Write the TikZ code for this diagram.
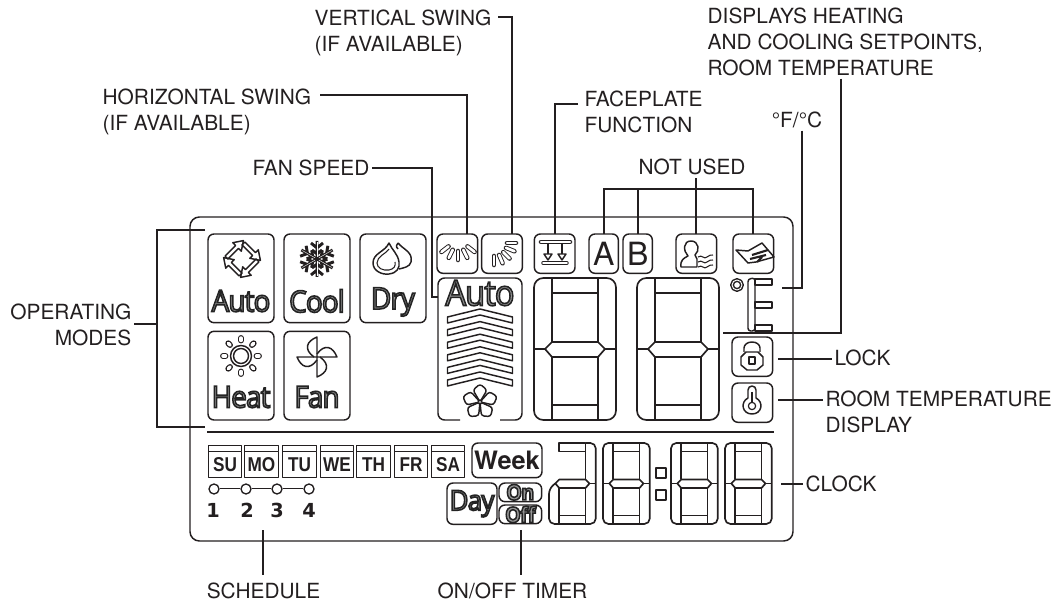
\documentclass[tikz,border=0pt]{standalone}
\usepackage{fontspec}
\setmainfont{TeX Gyre Heros}
\newfontfamily\lcdfont[FakeStretch=.93,LetterSpace=-3]{Open Sans}
\newfontfamily\dayfont[FakeStretch=.86]{Liberation Sans}
\newfontfamily\numfont{DejaVu Sans}
\usepackage{xcolor}
\usetikzlibrary{positioning,calc}
\definecolor{ink}{RGB}{35,31,32}
\newcommand{\hollow}[1]{\special{pdf:code 2 Tr 1.15 w .6 g .14 G}#1\special{pdf:code 0 Tr .14 g}}
% one seven-segment digit: left, top, scale
\newcommand{\segbody}{
  \draw (11,71) -- (18,64) -- (64,64) -- (71,71) -- (64,79) -- (18,79) -- cycle;
  \draw (0,71) -- (11,71) (71,71) -- (82,71);
  \draw (18,0) -- (18,64) (64,0) -- (64,64) (18,79) -- (18,142) (64,79) -- (64,142);
  \draw (18,15) -- (64,15) (18,127) -- (64,127);
}
\newcommand{\segdigit}[3]{
  \begin{scope}[shift={(#1,#2)},scale=#3,lcd,line width=1.25pt]
    \draw[rounded corners={#3*7pt}] (0,0) rectangle (82,142);
    \segbody
  \end{scope}
}
\tikzset{
  lcd/.style={draw=ink,line width=1.1pt,line join=round},
  leader/.style={draw=ink,line width=1.5pt},
  lbl/.style={text=ink,inner sep=0pt,outer sep=2pt,align=left,font=\fontsize{15.65}{19.5}\selectfont},
  icobox/.style={lcd,rounded corners=4.5pt,inner sep=0pt,outer sep=0pt,minimum width=30.5pt,minimum height=29.5pt},
  modebox/.style={icobox,minimum width=49.5pt,minimum height=66.5pt},
  modetxt/.style={text=ink,inner sep=0pt,font=\lcdfont\fontsize{22.5}{22.5}\selectfont},
  daybox/.style={lcd,line width=.9pt,inner sep=0pt,outer sep=0pt,minimum width=25pt,minimum height=20pt,text=ink,font=\dayfont\bfseries\fontsize{15}{15}\selectfont},
  capsule/.style={draw=ink,line width=.7pt,double=white,double distance=2pt,line cap=round},
  stop/.style={circle,draw=ink,line width=1pt,fill=white,inner sep=0pt,minimum size=7.5pt},
  stoplink/.style={draw=ink,line width=.55pt,double=white,double distance=.5pt},
  stopnum/.style={text=ink,inner sep=0pt,font=\numfont\bfseries\fontsize{14.5}{14.5}\selectfont},
}
\begin{document}
\begin{tikzpicture}[x=.75pt,y=-.75pt]
  \useasboundingbox (0,0) rectangle (1059,605);
  \draw[lcd,rounded corners=7pt] (190,217) rectangle (793,541);
  \draw[lcd] (207,432) -- (774,432);

  % mode boxes
  \node[modebox,anchor=north west] (mAuto) at (208,234) {};
  \node[modebox,right=7.5pt of mAuto] (mCool) {};
  \node[modebox,right=7.5pt of mCool] (mDry) {};
  \node[modebox,below=6.5pt of mAuto] (mHeat) {};
  \node[modebox,right=7.5pt of mHeat] (mFan) {};
  \node[modetxt] (tAuto) at (241,301) {\hollow{Auto}};
  \node[modetxt] (tCool) at (317,301) {\hollow{Cool}};
  \node[modetxt] (tDry) at (393,302) {\hollow{Dry}};
  \node[modetxt] (tHeat) at (241,397) {\hollow{Heat}};
  \node[modetxt] (tFan) at (317,397) {\hollow{Fan}};

  % recycle arrows
  \foreach \a in {45,135,225,315}
    \draw[lcd,shift={(242,259)},rotate=\a] (-10,-14) -- (5,-14) -- (5,-18) -- (14,-12) -- (5,-6) -- (5,-10) -- (-10,-10) -- cycle;
  % snowflake
  \foreach \a in {0,60,...,300} {
    \begin{scope}[shift={(317,259)},rotate=\a]
      \draw[draw=ink,line width=2.2pt] (0,0) -- (0,-18) (0,-11) -- (-6,-16) (0,-11) -- (6,-16) (0,-5) -- (-5,-9) (0,-5) -- (5,-9);
      \draw[white,line width=.3pt] (0,-2) -- (0,-17);
    \end{scope}
  }
  % drops
  \draw[lcd] (398,243) .. controls (404,250) and (413,252) .. (411,262) .. controls (410,267) and (403,268) .. (399,269);
  \draw[lcd] (398,249) .. controls (395,246) and (397,245) .. (398,243);
  \draw[lcd,fill=white] (389,243) .. controls (385,252) and (373,253) .. (373,263) .. controls (373,271) and (382,275) .. (389,274) .. controls (397,273) and (400,268) .. (399,262) .. controls (398,254) and (392,250) .. (389,243) -- cycle;
  \draw[lcd,line width=.8pt] (389,249) .. controls (386,254) and (377,256) .. (377,263) .. controls (377,268) and (383,271) .. (389,270) .. controls (394,269) and (396,266) .. (395,262);
  % sun
  \draw[lcd] (241,356) circle (7.5) circle (10.5);
  \foreach \a in {0,45,...,315}
    \draw[capsule,line width=.9pt,double distance=2.6pt] ($(241,356)+(\a:15.5)$) -- ($(241,356)+(\a:18)$);
  % pinwheel
  \foreach \a in {0,90,180,270}
    \draw[lcd,shift={(317,357)},rotate=\a] (0,0) -- (0,-20) .. controls (-10,-16) and (-14,-8) .. (-3,0);

  % top row icons
  \node[icobox,anchor=north west] (hswing) at (437,234) {};
  \node[icobox,right=3pt of hswing] (vswing) {};
  \node[icobox,right=9pt of vswing] (face) {};
  \node[icobox,minimum width=22pt,anchor=north west,text=ink,font=\fontsize{24}{24}\selectfont] (boxA) at (589,234) {A};
  \node[icobox,minimum width=22pt,right=3.5pt of boxA,text=ink,font=\fontsize{24}{24}\selectfont] (boxB) {B};
  \node[icobox,anchor=north west] (person) at (676,234) {};
  \node[icobox,anchor=north west] (air) at (733,234) {};
  \foreach \a in {38,64,90,116,142}
    \draw[capsule] ($(458,239)+(\a:12)$) -- ($(458,239)+(\a:21)$);
  \foreach \a in {0,22,45,67,90}
    \draw[capsule] ($(494,243)+(\a:13)$) -- ($(494,243)+(\a:22)$);
  % faceplate
  \draw[capsule] (541,242) -- (570,242);
  \draw[capsule,double distance=1.2pt] (543,263) -- (567,263);
  \foreach \x in {548,562} {
    \draw[lcd] (\x,243) -- (\x,254);
    \draw[lcd] (\x-4,254) -- (\x+4,254) -- (\x,260) -- cycle;
  }
  % person
  \draw[lcd] (681,267) .. controls (680,260) and (684,258) .. (688,256) .. controls (683,251) and (683,241) .. (691,241) .. controls (699,241) and (700,251) .. (695,255) -- (697,259) -- (697,267) -- cycle;
  \foreach \y in {257,262,267}
    \draw[lcd,line width=.8pt] (698,\y) .. controls (702,\y-3) and (704,\y+3) .. (707,\y) .. controls (709,\y-2) and (711,\y-2) .. (713,\y-2);
  % louvre
  \draw[lcd] (736,250) -- (748,251) -- (762,243) -- (774,257) -- (756,262) -- (748,263) -- cycle;
  \draw[draw=ink,line width=1.6pt] (752,255) -- (768,250) (750,259) -- (766,255) (757,262) -- (762,257);

  % fan speed panel
  \node[inner sep=0pt,outer sep=0pt,minimum width=63pt,minimum height=106.5pt,anchor=north west] (fanbox) at (438,278) {};
  \draw[lcd,rounded corners=5pt] (460,420) -- (fanbox.south west) -- (fanbox.north west) -- (fanbox.north east) -- (fanbox.south east) -- (500,420);
  \node[modetxt,font=\lcdfont\fontsize{26.5}{26.5}\selectfont] (tSpeed) at (480,293) {\hollow{Auto}};
  \foreach \y in {0,...,5}
    \draw[lcd,shift={(480,309+12.6*\y)}] (-32.5,8) -- (0,0) -- (32.5,8) -- (32.5,14) -- (0,6) -- (-32.5,14) -- cycle;
  \foreach \a in {0,72,...,288}
    \draw[lcd,shift={(480,402)},rotate=\a,rounded corners=2pt] (0,0) -- (-7,-12) -- (0,-18) -- (7,-12) -- cycle;

  % digits
  \segdigit{534}{278}{1}
  \segdigit{637}{278}{1}
  \segdigit{603}{443}{.57}
  \segdigit{671}{443}{.57}
  \segdigit{725}{443}{.57}
  \begin{scope}[shift={(549,443)},scale=.57,lcd,line width=1.25pt]
    \draw[rounded corners=4pt] (64,0) -- (82,0) -- (82,142) -- (0,142) -- (0,80) -- (11,71);
    \draw (18,0) rectangle (64,15);
    \draw (11,71) -- (18,64) -- (64,64) -- (71,71) -- (64,79) -- (18,79) -- cycle;
    \draw (71,71) -- (82,71) (64,0) -- (64,64) (18,79) -- (18,142) (64,79) -- (64,142) (18,127) -- (64,127);
  \end{scope}
  \node[lcd,minimum size=7.5pt,inner sep=0pt] (dotA) at (661,473) {};
  \node[lcd,minimum size=7.5pt,inner sep=0pt,below=8pt of dotA] (dotB) {};

  % degree and tens digit
  \node[circle,lcd,inner sep=0pt,minimum size=7.5pt,double,double distance=.7pt] (deg) at (737,285) {};
  \draw[lcd,rounded corners=2pt] (755,278) -- (748,279) -- (748,331) -- (755,331) -- cycle;
  \foreach \y in {279,302,325}
    \draw[lcd] (755,\y) rectangle (772,\y+6);

  % lock
  \node[icobox,anchor=north west] (lock) at (732,337) {};
  \node[icobox,below=5pt of lock] (thermo) {};
  \draw[lcd] (744,352) -- (744,348) arc[start angle=180,end angle=360,x radius=8,y radius=6] -- (760,352);
  \draw[lcd] (746,352) -- (758,352) -- (763,357) -- (763,365) -- (757,370) -- (747,370) -- (741,365) -- (741,357) -- cycle;
  \draw[lcd] (749,357) rectangle (755,364);
  % thermometer
  \draw[lcd] (748,398) -- (748,390) arc[start angle=180,end angle=360,radius=4] -- (756,398) .. controls (764,402) and (762,414) .. (752,414) .. controls (742,414) and (740,402) .. (748,398) -- cycle;
  \draw[lcd,line width=.9pt] (752,392) -- (752,403);
  \node[circle,lcd,line width=.9pt,inner sep=0pt,minimum size=5.5pt] (bulb) at (752,406) {};

  % schedule
  \foreach \nm/\x/\t in {su/225/SU,mo/261.5/MO,tu/299.5/TU,we/337/WE,th/373.5/TH,fr/411/FR,sa/448/SA} {
    \node[daybox] (\nm) at (\x,464.5) {\t};
    \draw[lcd,line width=.9pt] (\nm.north west) -- ++(0,-6) -- ($(\nm.north east)+(0,-6)$) -- (\nm.north east);
  }
  \node[icobox,minimum width=52.5pt,minimum height=26pt,anchor=north west,text=ink,font=\bfseries\fontsize{19}{19}\selectfont] (week) at (472,443) {Week};
  \node[icobox,minimum width=37.5pt,minimum height=31pt,anchor=north west] (dayb) at (447,483) {};
  \node[modetxt,font=\lcdfont\fontsize{21}{21}\selectfont] (tDay) at (dayb) {\hollow{Day}};
  \node[icobox,minimum width=32pt,minimum height=14pt,anchor=north west] (onb) at (499,483) {};
  \node[icobox,minimum width=32pt,minimum height=14pt,anchor=north west] (offb) at (499,505) {};
  \node[modetxt,font=\lcdfont\bfseries\fontsize{16}{16}\selectfont] (tOn) at (onb) {\hollow{On}};
  \node[modetxt,font=\lcdfont\bfseries\fontsize{16}{16}\selectfont] (tOff) at (offb) {\hollow{Off}};

  \node[stop] (s1) at (214,489) {};
  \node[stop] (s2) at (246,489) {};
  \node[stop] (s3) at (277,489) {};
  \node[stop] (s4) at (309,489) {};
  \draw[stoplink] (s1) -- (s2);
  \draw[stoplink] (s2) -- (s3);
  \draw[stoplink] (s3) -- (s4);
  \node[stopnum] (n1) at (213,510) {1};
  \node[stopnum] (n2) at (247,510) {2};
  \node[stopnum] (n3) at (277,510) {3};
  \node[stopnum] (n4) at (309,510) {4};

  % labels
  \node[lbl,anchor=west] (lblV) at (312,33) {VERTICAL SWING\\(IF AVAILABLE)};
  \node[lbl,anchor=west] (lblH) at (100,112) {HORIZONTAL SWING\\(IF AVAILABLE)};
  \node[lbl,anchor=west] (lblS) at (250,168) {FAN SPEED};
  \node[lbl,anchor=west] (lblF) at (582,112) {FACEPLATE\\FUNCTION};
  \node[lbl] (lblN) at (692,167) {NOT USED};
  \node[lbl] (lblC) at (797,120) {°F/°C};
  \node[lbl,anchor=west] (lblD) at (705,42) {DISPLAYS HEATING\\AND COOLING SETPOINTS,\\ROOM TEMPERATURE};
  \node[lbl,anchor=east,align=right] (lblO) at (134,325) {OPERATING\\MODES};
  \node[lbl,anchor=west] (lblL) at (832,358) {LOCK};
  \node[lbl,anchor=west] (lblR) at (823,412) {ROOM TEMPERATURE\\DISPLAY};
  \node[lbl,anchor=west] (lblK) at (803,484) {CLOCK};
  \node[lbl,outer sep=6pt] (lblSch) at (263.5,591) {SCHEDULE};
  \node[lbl,outer sep=6pt] (lblT) at (512.5,591) {ON/OFF TIMER};

  \coordinate (vEnd) at (498,17);
  \coordinate (hEnd) at (320,95);
  \coordinate (sEnd) at (372,168);
  \coordinate (sKnee) at (432,297);
  \coordinate (fEnd) at (578,104);
  \coordinate (nBus) at (696,189);
  \coordinate (cEnd) at (782,288);
  \coordinate (dEnd) at (723,333);
  \coordinate (oTop) at (205,230);
  \coordinate (oBot) at (205,427);
  \coordinate (oMid) at (157,324);
  \coordinate (lEnd) at (778,359);
  \coordinate (rEnd) at (778,400);
  \coordinate (kEnd) at (781,484);
  \coordinate (schEnd) at (263,530);
  \coordinate (tEnd) at (521,530);

  \draw[leader] (vEnd) -| ([xshift=7.5pt]vswing.north);
  \draw[leader] (hEnd) -| ([xshift=7.5pt]hswing.north);
  \draw[leader] (sEnd) -| (sKnee) -- (sKnee -| fanbox.west);
  \draw[leader] (fEnd) -| (face.north);
  \draw[leader] (boxA.north) |- (nBus) -| (air.north);
  \draw[leader] (boxB.north) -- (boxB.north |- nBus);
  \draw[leader] (person.north) -- (person.north |- lblN.south);
  \draw[leader] ([xshift=3.75pt]lblC.south) |- (cEnd);
  \draw[leader] ([xshift=-3.5pt]lblD.south) |- (dEnd);
  \draw[leader] (oTop) -| (oMid) |- (oBot);
  \draw[leader] (oMid -| lblO.east) -- (oMid);
  \draw[leader] (lEnd) -- (lEnd -| lblL.west);
  \draw[leader] (rEnd) -- (rEnd -| lblR.west);
  \draw[leader] (kEnd) -- (kEnd -| lblK.west);
  \draw[leader] (schEnd) -- (schEnd |- lblSch.north);
  \draw[leader] (tEnd) -- (tEnd |- lblT.north);
\end{tikzpicture}
\end{document}
